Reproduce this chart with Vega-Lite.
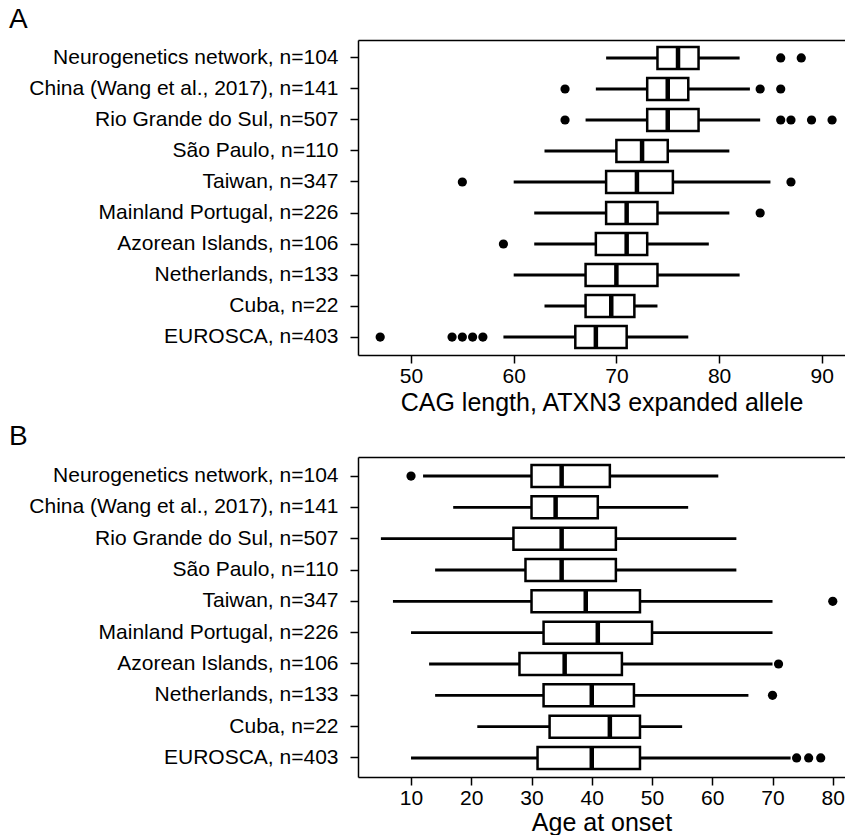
{
  "$schema": "https://vega.github.io/schema/vega-lite/v6.json",
  "padding": {"left": 9, "top": 6, "right": 0, "bottom": 0},
  "background": "white",
  "config": {
    "font": "Liberation Sans",
    "view": {"stroke": null},
    "axis": {"domainColor": "black", "domainWidth": 1.5, "tickColor": "black", "tickWidth": 1.5, "labelColor": "black", "titleColor": "black", "grid": false, "labelFont": "Liberation Sans", "titleFont": "Liberation Sans", "titleFontWeight": "normal", "labelOverlap": false, "labelLimit": 0},
    "title": {"font": "Liberation Sans", "fontWeight": "normal", "color": "black"}
  },
  "datasets": {
    "boxA": [
      {"cohort": "Neurogenetics network, n=104", "lo": 69, "q1": 74, "med": 76, "q3": 78, "hi": 82},
      {"cohort": "China (Wang et al., 2017), n=141", "lo": 68, "q1": 73, "med": 75, "q3": 77, "hi": 83},
      {"cohort": "Rio Grande do Sul, n=507", "lo": 67, "q1": 73, "med": 75, "q3": 78, "hi": 84},
      {"cohort": "São Paulo, n=110", "lo": 63, "q1": 70, "med": 72.5, "q3": 75, "hi": 81},
      {"cohort": "Taiwan, n=347", "lo": 60, "q1": 69, "med": 72, "q3": 75.5, "hi": 85},
      {"cohort": "Mainland Portugal, n=226", "lo": 62, "q1": 69, "med": 71, "q3": 74, "hi": 81},
      {"cohort": "Azorean Islands, n=106", "lo": 62, "q1": 68, "med": 71, "q3": 73, "hi": 79},
      {"cohort": "Netherlands, n=133", "lo": 60, "q1": 67, "med": 70, "q3": 74, "hi": 82},
      {"cohort": "Cuba, n=22", "lo": 63, "q1": 67, "med": 69.5, "q3": 71.75, "hi": 74},
      {"cohort": "EUROSCA, n=403", "lo": 59, "q1": 66, "med": 68, "q3": 71, "hi": 77}
    ],
    "outA": [
      {"cohort": "Neurogenetics network, n=104", "v": 86},
      {"cohort": "Neurogenetics network, n=104", "v": 88},
      {"cohort": "China (Wang et al., 2017), n=141", "v": 65},
      {"cohort": "China (Wang et al., 2017), n=141", "v": 84},
      {"cohort": "China (Wang et al., 2017), n=141", "v": 86},
      {"cohort": "Rio Grande do Sul, n=507", "v": 65},
      {"cohort": "Rio Grande do Sul, n=507", "v": 86},
      {"cohort": "Rio Grande do Sul, n=507", "v": 87},
      {"cohort": "Rio Grande do Sul, n=507", "v": 89},
      {"cohort": "Rio Grande do Sul, n=507", "v": 91},
      {"cohort": "Taiwan, n=347", "v": 55},
      {"cohort": "Taiwan, n=347", "v": 87},
      {"cohort": "Mainland Portugal, n=226", "v": 84},
      {"cohort": "Azorean Islands, n=106", "v": 59},
      {"cohort": "EUROSCA, n=403", "v": 47},
      {"cohort": "EUROSCA, n=403", "v": 54},
      {"cohort": "EUROSCA, n=403", "v": 55},
      {"cohort": "EUROSCA, n=403", "v": 56},
      {"cohort": "EUROSCA, n=403", "v": 57}
    ],
    "boxB": [
      {"cohort": "Neurogenetics network, n=104", "lo": 12, "q1": 30, "med": 35, "q3": 43, "hi": 61},
      {"cohort": "China (Wang et al., 2017), n=141", "lo": 17, "q1": 30, "med": 34, "q3": 41, "hi": 56},
      {"cohort": "Rio Grande do Sul, n=507", "lo": 5, "q1": 27, "med": 35, "q3": 44, "hi": 64},
      {"cohort": "São Paulo, n=110", "lo": 14, "q1": 29, "med": 35, "q3": 44, "hi": 64},
      {"cohort": "Taiwan, n=347", "lo": 7, "q1": 30, "med": 39, "q3": 48, "hi": 70},
      {"cohort": "Mainland Portugal, n=226", "lo": 10, "q1": 32, "med": 41, "q3": 50, "hi": 70},
      {"cohort": "Azorean Islands, n=106", "lo": 13, "q1": 28, "med": 35.5, "q3": 45, "hi": 70},
      {"cohort": "Netherlands, n=133", "lo": 14, "q1": 32, "med": 40, "q3": 47, "hi": 66},
      {"cohort": "Cuba, n=22", "lo": 21, "q1": 33, "med": 43, "q3": 48, "hi": 55},
      {"cohort": "EUROSCA, n=403", "lo": 10, "q1": 31, "med": 40, "q3": 48, "hi": 73}
    ],
    "outB": [
      {"cohort": "Neurogenetics network, n=104", "v": 10},
      {"cohort": "Taiwan, n=347", "v": 80},
      {"cohort": "Azorean Islands, n=106", "v": 71},
      {"cohort": "Netherlands, n=133", "v": 70},
      {"cohort": "EUROSCA, n=403", "v": 74},
      {"cohort": "EUROSCA, n=403", "v": 76},
      {"cohort": "EUROSCA, n=403", "v": 78}
    ]
  },
  "spacing": 8,
  "vconcat": [
    {
      "width": 487,
      "height": 315,
      "title": {"text": "A", "anchor": "start", "frame": "group", "dx": -349, "fontSize": 28, "offset": 6},
      "resolve": {"axis": {"x": "independent"}},
      "layer": [
        {
          "data": {"name": "boxA"},
          "mark": {"type": "rule", "strokeWidth": 2.8, "color": "black"},
          "encoding": {
            "y": {"field": "cohort", "type": "nominal", "sort": ["Neurogenetics network, n=104", "China (Wang et al., 2017), n=141", "Rio Grande do Sul, n=507", "São Paulo, n=110", "Taiwan, n=347", "Mainland Portugal, n=226", "Azorean Islands, n=106", "Netherlands, n=133", "Cuba, n=22", "EUROSCA, n=403"], "scale": {"paddingInner": 0, "paddingOuter": 0.08}, "axis": {"title": null, "labelFontSize": 21, "tickSize": 8, "labelPadding": 12}},
            "x": {"field": "lo", "type": "quantitative", "scale": {"domain": [44.84, 92.26], "nice": false, "zero": false}, "axis": {"values": [50, 60, 70, 80, 90], "labelFontSize": 21, "tickSize": 8, "labelPadding": 2, "title": "CAG length, ATXN3 expanded allele", "titleFontSize": 25, "titlePadding": 4}},
            "x2": {"field": "hi"}
          }
        },
        {
          "data": {"name": "boxA"},
          "mark": {"type": "bar", "fill": "white", "stroke": "black", "strokeWidth": 2.5, "height": 22},
          "encoding": {
            "y": {"field": "cohort", "type": "nominal", "sort": ["Neurogenetics network, n=104", "China (Wang et al., 2017), n=141", "Rio Grande do Sul, n=507", "São Paulo, n=110", "Taiwan, n=347", "Mainland Portugal, n=226", "Azorean Islands, n=106", "Netherlands, n=133", "Cuba, n=22", "EUROSCA, n=403"]},
            "x": {"field": "q1", "type": "quantitative", "axis": {"orient": "top", "labels": false, "ticks": false, "title": null, "domain": true}},
            "x2": {"field": "q3"}
          }
        },
        {
          "data": {"name": "boxA"},
          "mark": {"type": "tick", "color": "black", "thickness": 4.5, "size": 22, "opacity": 1},
          "encoding": {
            "y": {"field": "cohort", "type": "nominal", "sort": ["Neurogenetics network, n=104", "China (Wang et al., 2017), n=141", "Rio Grande do Sul, n=507", "São Paulo, n=110", "Taiwan, n=347", "Mainland Portugal, n=226", "Azorean Islands, n=106", "Netherlands, n=133", "Cuba, n=22", "EUROSCA, n=403"]},
            "x": {"field": "med", "type": "quantitative", "axis": null}
          }
        },
        {
          "data": {"name": "outA"},
          "mark": {"type": "point", "filled": true, "color": "black", "size": 85, "opacity": 1},
          "encoding": {
            "y": {"field": "cohort", "type": "nominal", "sort": ["Neurogenetics network, n=104", "China (Wang et al., 2017), n=141", "Rio Grande do Sul, n=507", "São Paulo, n=110", "Taiwan, n=347", "Mainland Portugal, n=226", "Azorean Islands, n=106", "Netherlands, n=133", "Cuba, n=22", "EUROSCA, n=403"]},
            "x": {"field": "v", "type": "quantitative", "axis": null}
          }
        }
      ]
    },
    {
      "width": 487,
      "height": 320,
      "title": {"text": "B", "anchor": "start", "frame": "group", "dx": -349, "fontSize": 28, "offset": 6},
      "resolve": {"axis": {"x": "independent"}},
      "layer": [
        {
          "data": {"name": "boxB"},
          "mark": {"type": "rule", "strokeWidth": 2.8, "color": "black"},
          "encoding": {
            "y": {"field": "cohort", "type": "nominal", "sort": ["Neurogenetics network, n=104", "China (Wang et al., 2017), n=141", "Rio Grande do Sul, n=507", "São Paulo, n=110", "Taiwan, n=347", "Mainland Portugal, n=226", "Azorean Islands, n=106", "Netherlands, n=133", "Cuba, n=22", "EUROSCA, n=403"], "scale": {"paddingInner": 0, "paddingOuter": 0.107}, "axis": {"title": null, "labelFontSize": 21, "tickSize": 8, "labelPadding": 12}},
            "x": {"field": "lo", "type": "quantitative", "scale": {"domain": [1.2, 82.03], "nice": false, "zero": false}, "axis": {"values": [10, 20, 30, 40, 50, 60, 70, 80], "labelFontSize": 21, "tickSize": 8, "labelPadding": 2, "title": "Age at onset", "titleFontSize": 25, "titlePadding": 2}},
            "x2": {"field": "hi"}
          }
        },
        {
          "data": {"name": "boxB"},
          "mark": {"type": "bar", "fill": "white", "stroke": "black", "strokeWidth": 2.5, "height": 22},
          "encoding": {
            "y": {"field": "cohort", "type": "nominal", "sort": ["Neurogenetics network, n=104", "China (Wang et al., 2017), n=141", "Rio Grande do Sul, n=507", "São Paulo, n=110", "Taiwan, n=347", "Mainland Portugal, n=226", "Azorean Islands, n=106", "Netherlands, n=133", "Cuba, n=22", "EUROSCA, n=403"]},
            "x": {"field": "q1", "type": "quantitative", "axis": {"orient": "top", "labels": false, "ticks": false, "title": null, "domain": true}},
            "x2": {"field": "q3"}
          }
        },
        {
          "data": {"name": "boxB"},
          "mark": {"type": "tick", "color": "black", "thickness": 4.5, "size": 22, "opacity": 1},
          "encoding": {
            "y": {"field": "cohort", "type": "nominal", "sort": ["Neurogenetics network, n=104", "China (Wang et al., 2017), n=141", "Rio Grande do Sul, n=507", "São Paulo, n=110", "Taiwan, n=347", "Mainland Portugal, n=226", "Azorean Islands, n=106", "Netherlands, n=133", "Cuba, n=22", "EUROSCA, n=403"]},
            "x": {"field": "med", "type": "quantitative", "axis": null}
          }
        },
        {
          "data": {"name": "outB"},
          "mark": {"type": "point", "filled": true, "color": "black", "size": 85, "opacity": 1},
          "encoding": {
            "y": {"field": "cohort", "type": "nominal", "sort": ["Neurogenetics network, n=104", "China (Wang et al., 2017), n=141", "Rio Grande do Sul, n=507", "São Paulo, n=110", "Taiwan, n=347", "Mainland Portugal, n=226", "Azorean Islands, n=106", "Netherlands, n=133", "Cuba, n=22", "EUROSCA, n=403"]},
            "x": {"field": "v", "type": "quantitative", "axis": null}
          }
        }
      ]
    }
  ]
}
